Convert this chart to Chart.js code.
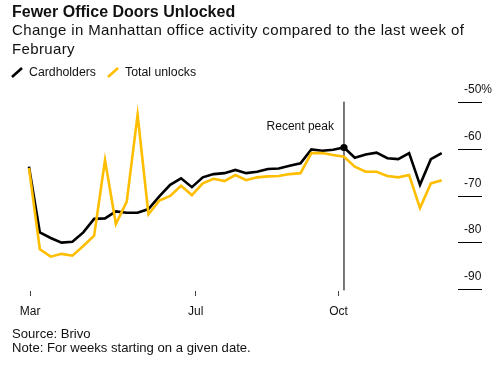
<!DOCTYPE html>
<html>
<head>
<meta charset="utf-8">
<script src="https://cdn.jsdelivr.net/npm/chart.js@4/dist/chart.umd.min.js"></script>
<style>
  html, body { margin: 0; padding: 0; background: #fff; }
  #wrap { position: relative; width: 500px; height: 368px; overflow: hidden; font-family: "Liberation Sans", Arial, sans-serif; color: #111; }
  #c { position: absolute; left: 0; top: 0; }
  .t { position: absolute; left: 12px; white-space: nowrap; }
  #title { top: 3.8px; font-size: 16px; line-height: 16px; font-weight: bold; }
  #sub { top: 21.2px; font-size: 15px; line-height: 18.6px; letter-spacing: 0.36px; }
  #legend { top: 65.4px; font-size: 12.3px; line-height: 14px; left: 11px; display: flex; align-items: center; }
  #legend svg { display: inline-block; margin-right: 6px; }
  #legend span.item { display: inline-flex; align-items: center; margin-right: 11px; }
  #foot { top: 327.4px; font-size: 13.1px; line-height: 14px; }
</style>
</head>
<body>
<div id="wrap">
  <canvas id="c" width="500" height="368"></canvas>
  <div class="t" id="title">Fewer Office Doors Unlocked</div>
  <div class="t" id="sub">Change in Manhattan office activity compared to the last week of<br>February</div>
  <div class="t" id="legend"></div>
  <div class="t" id="foot">Source: Brivo<br>Note: For weeks starting on a given date.</div>
</div>
<script>
// ---- Data (weekly, starting first week of March) ----
const weekIndex = Array.from({length: 39}, (_, i) => i);
const cardholders = [
  -63.7, -77.8, -79.0, -80.0, -79.8, -77.8, -74.9, -74.8, -73.3, -73.6,
  -73.6, -72.8, -70.1, -67.6, -66.2, -68.1, -66.0, -65.3, -65.1, -64.4,
  -65.1, -64.8, -64.2, -64.1, -63.5, -63.0, -60.0, -60.3, -60.1, -59.6,
  -61.8, -61.1, -60.7, -61.9, -62.1, -60.8, -67.6, -62.1, -60.8
];
const totalUnlocks = [
  -64.0, -81.4, -83.0, -82.4, -82.8, -80.7, -78.5, -62.3, -76.0, -71.2,
  -52.6, -73.9, -71.0, -70.0, -67.8, -69.8, -67.3, -66.3, -66.8, -65.5,
  -66.6, -66.0, -65.8, -65.7, -65.3, -65.1, -60.8, -60.8, -61.2, -61.6,
  -63.7, -64.8, -64.8, -65.7, -66.0, -65.5, -72.6, -67.3, -66.6
];
const seriesNames = ['Cardholders', 'Total unlocks'];
const seriesColors = ['#000000', '#FFBE00'];
const xTickLabels = ['Mar', 'Jul', 'Oct'];
const xTickPositions = [0.1, 15.35, 28.5];
const yTickValues = [-50, -60, -70, -80, -90];
const yTickLabels = ['-50%', '-60', '-70', '-80', '-90'];
const peakIndex = 29;
const peakLabel = 'Recent peak';

// ---- Legend (HTML) ----
const legendEl = document.getElementById('legend');
seriesNames.forEach((name, i) => {
  const item = document.createElement('span');
  item.className = 'item';
  item.innerHTML = '<svg width="12" height="11" viewBox="0 0 12 11"><line x1="1" y1="10" x2="11" y2="1" stroke="' + seriesColors[i] + '" stroke-width="2.6" stroke-linecap="butt"/></svg>';
  const txt = document.createElement('span');
  txt.textContent = name;
  item.appendChild(txt);
  legendEl.appendChild(item);
});

Chart.defaults.font.family = '"Liberation Sans", Arial, sans-serif';
Chart.defaults.color = '#111';

const annotationPlugin = {
  id: 'peakText',
  afterDatasetsDraw(chart) {
    const xs = chart.scales.x, ys = chart.scales.y, ctx = chart.ctx;
    ctx.save();
    ctx.font = '12px "Liberation Sans", Arial, sans-serif';
    ctx.fillStyle = '#111';
    ctx.textAlign = 'right';
    ctx.textBaseline = 'middle';
    ctx.fillText(peakLabel, xs.getPixelForValue(peakIndex) - 10, ys.getPixelForValue(-55.1));
    ctx.restore();
  }
};

const toXY = arr => arr.map((v, i) => ({x: weekIndex[i], y: v}));

new Chart(document.getElementById('c'), {
  type: 'line',
  data: {
    datasets: [
      {
        label: 'peak-line',
        data: [{x: peakIndex, y: -49.8}, {x: peakIndex, y: -90.2}],
        borderColor: '#666',
        borderWidth: 1,
        pointRadius: 0,
        clip: false,
        order: 3
      },
      {
        label: seriesNames[0],
        data: toXY(cardholders),
        borderColor: seriesColors[0],
        borderWidth: 2.6,
        pointRadius: 0,
        tension: 0,
        clip: false,
        order: 2
      },
      {
        label: seriesNames[1],
        data: toXY(totalUnlocks),
        borderColor: seriesColors[1],
        borderWidth: 2.6,
        pointRadius: 0,
        tension: 0,
        clip: false,
        order: 1
      },
      {
        label: 'peak',
        data: [{x: peakIndex, y: cardholders[peakIndex]}],
        showLine: false,
        pointRadius: 3.6,
        pointBackgroundColor: '#000',
        pointBorderWidth: 0,
        clip: false,
        order: 0
      }
    ]
  },
  options: {
    responsive: false,
    animation: false,
    events: [],
    layout: { padding: { top: 102.7, left: 28, right: 0, bottom: 0 } },
    plugins: { legend: { display: false }, title: { display: false }, tooltip: { enabled: false } },
    scales: {
      x: {
        type: 'linear',
        min: -0.09,
        max: 39.5,
        afterBuildTicks: s => { s.ticks = xTickPositions.map(v => ({value: v})); },
        afterFit: s => { s.height = 77; },
        grid: { drawOnChartArea: false, drawTicks: true, tickLength: 5, color: '#444', lineWidth: 1 },
        border: { display: false },
        ticks: {
          autoSkip: false, maxRotation: 0, minRotation: 0,
          padding: 8,
          font: { size: 12 },
          color: '#111',
          callback: (v, i) => xTickLabels[i]
        }
      },
      y: {
        type: 'linear',
        position: 'right',
        min: -90.36,
        max: -50,
        afterBuildTicks: s => { s.ticks = yTickValues.map(v => ({value: v})); },
        afterFit: s => { s.width = 42; },
        grid: { drawOnChartArea: false, drawTicks: true, tickLength: 24, color: '#000', lineWidth: 1 },
        border: { display: false },
        ticks: {
          padding: -18,
          labelOffset: -12.6,
          font: { size: 12 },
          color: '#111',
          callback: (v, i) => yTickLabels[i]
        }
      }
    }
  },
  plugins: [annotationPlugin]
});
</script>
</body>
</html>
